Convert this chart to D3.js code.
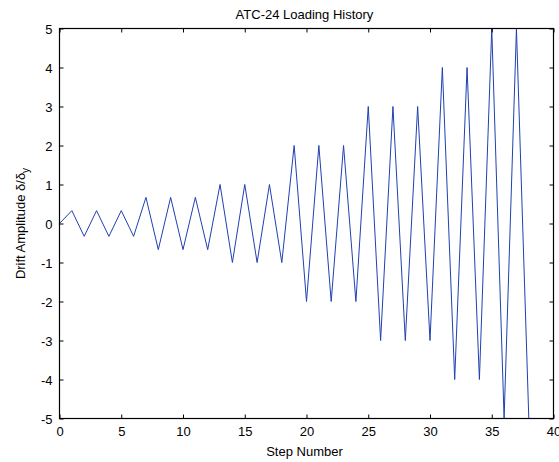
<!DOCTYPE html>
<html>
<head>
<meta charset="utf-8">
<script src="https://cdn.jsdelivr.net/npm/d3@7"></script>
<style>
  body { margin: 0; background: #fff; }
  text { font-family: "Liberation Sans", Arial, sans-serif; fill: #000; }
</style>
</head>
<body>
<div id="chart"></div>
<script>
// ATC-24 drift amplitudes by step
var steps = [0, 1, 2, 3, 4, 5, 6, 7, 8, 9, 10, 11, 12, 13, 14, 15, 16, 17, 18, 19,
  20, 21, 22, 23, 24, 25, 26, 27, 28, 29, 30, 31, 32, 33, 34, 35, 36, 37, 38];
var amplitude = [0, 0.33, -0.33, 0.33, -0.33, 0.33, -0.33, 0.67, -0.67, 0.67, -0.67, 0.67, -0.67,
  1, -1, 1, -1, 1, -1, 2, -2, 2, -2, 2, -2, 3, -3, 3, -3, 3, -3, 4, -4, 4, -4, 5, -5, 5, -5];
var xTicks = [0, 5, 10, 15, 20, 25, 30, 35, 40];
var yTicks = [-5, -4, -3, -2, -1, 0, 1, 2, 3, 4, 5];

var W = 559, H = 462;
var margin = { top: 28.5, right: 5.5, bottom: 43.5, left: 59.5 },
  width = W - margin.left - margin.right,
  height = H - margin.top - margin.bottom;

var svg = d3.select("#chart").append("svg")
  .attr("width", W)
  .attr("height", H);

var g = svg.append("g")
  .attr("transform", "translate(" + margin.left + "," + margin.top + ")");

var x = d3.scaleLinear().domain([0, 40]).range([0, width]);
var y = d3.scaleLinear().domain([-5, 5]).range([height, 0]);

g.append("clipPath").attr("id", "clip")
  .append("rect").attr("width", width).attr("height", height);

var line = d3.line()
  .x(function(d, i) { return x(steps[i]); })
  .y(function(d) { return y(d); });

g.append("path")
  .datum(amplitude)
  .attr("clip-path", "url(#clip)")
  .attr("fill", "none")
  .attr("stroke", "#2040b0")
  .attr("stroke-width", 1)
  .attr("d", line);

// axes (MATLAB style: ticks inside, box all round)
var tk = 4;
var fmt = function(d) { return String(d); }; // plain hyphen minus like matlab
var xAxis = d3.axisBottom(x).tickValues(xTicks).tickSizeInner(-tk).tickSizeOuter(0).tickPadding(8).tickFormat(fmt);
var yAxis = d3.axisLeft(y).tickValues(yTicks).tickSizeInner(-tk).tickSizeOuter(0).tickPadding(7).tickFormat(fmt);

var gx = g.append("g").attr("transform", "translate(0," + height + ")").call(xAxis);
var gy = g.append("g").call(yAxis);
g.append("g").call(d3.axisTop(x).tickValues(xTicks).tickSizeInner(-tk).tickSizeOuter(0).tickFormat(""));
g.append("g").attr("transform", "translate(" + width + ",0)")
  .call(d3.axisRight(y).tickValues(yTicks).tickSizeInner(-tk).tickSizeOuter(0).tickFormat(""));

g.selectAll(".domain").remove();
g.selectAll(".tick line").attr("stroke", "#000");
g.selectAll(".tick text").style("font-size", "13px").style("font-family", "'Liberation Sans', Arial, sans-serif");
gy.selectAll(".tick text").attr("dy", "0.36em");

g.append("rect")
  .attr("width", width).attr("height", height)
  .attr("fill", "none").attr("stroke", "#000").attr("stroke-width", 1.2);

svg.append("text")
  .attr("x", margin.left + width / 2 - 2).attr("y", 19)
  .attr("text-anchor", "middle")
  .style("font-size", "13px")
  .text("ATC-24 Loading History");

svg.append("text")
  .attr("x", margin.left + width / 2 - 2).attr("y", 456)
  .attr("text-anchor", "middle")
  .style("font-size", "13px")
  .text("Step Number");

var yl = svg.append("text")
  .attr("transform", "translate(25," + (margin.top + height / 2) + ") rotate(-90)")
  .attr("text-anchor", "middle")
  .style("font-size", "13px");
yl.append("tspan").text("Drift Amplitude δ/δ");
yl.append("tspan").attr("dy", "4").style("font-size", "10px").text("y");
</script>
</body>
</html>
